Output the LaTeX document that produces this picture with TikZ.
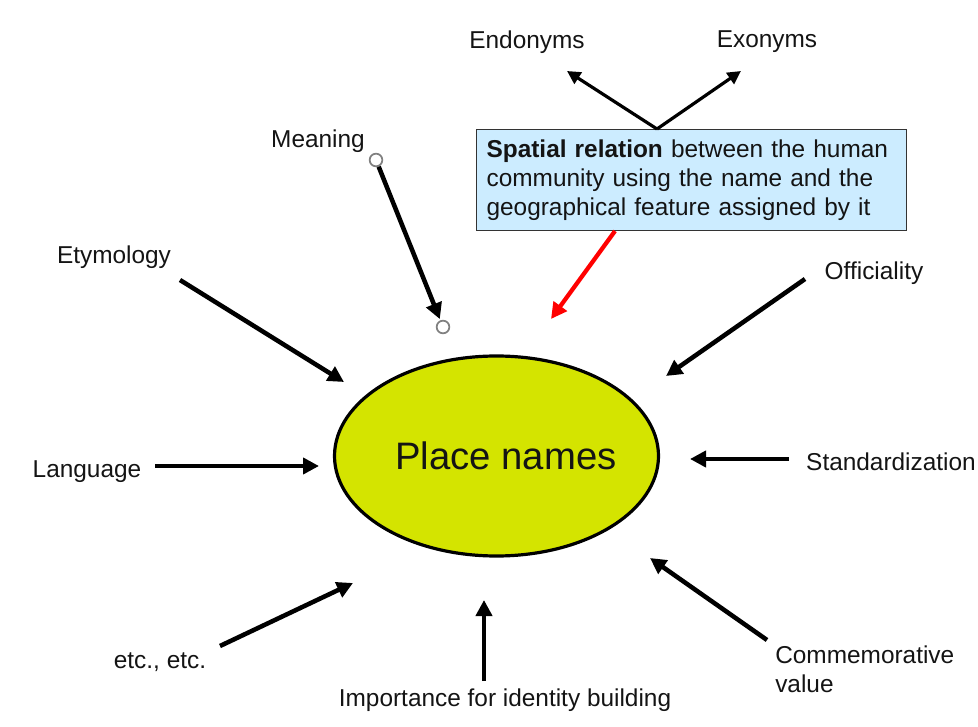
\documentclass[tikz,border=0pt]{standalone}
\usepackage{fontspec}
\setmainfont{Liberation Sans}
\usetikzlibrary{arrows.meta,shapes.geometric}
\definecolor{pnfill}{RGB}{212,228,0}
\definecolor{boxfill}{RGB}{204,236,255}
\definecolor{txt}{RGB}{20,20,20}
\begin{document}
\begin{tikzpicture}[x=0.75pt,y=-0.75pt,
  lbl/.style={font=\fontsize{18.3}{22}\selectfont,text=txt,inner sep=0pt},
  arr/.style={line width=3.4pt,-{Triangle[length=12pt,width=12pt]}},
  thinarr/.style={line width=2.4pt,-{Triangle[length=10pt,width=10pt]}},
  redarr/.style={line width=3.2pt,red,-{Triangle[length=12pt,width=12pt]}},
  ring/.style={circle,draw=gray,line width=1.3pt,minimum size=9.5pt,inner sep=0pt}]
\useasboundingbox (0,0) rectangle (978,727);
% central ellipse
\node[ellipse,draw,line width=2.4pt,fill=pnfill,minimum width=243pt,minimum height=150pt,inner sep=0pt] (ell) at (496.5,456) {};
\node[lbl,font=\fontsize{28.7}{32}\selectfont] (pn) at (506,456) {Place names};
% spatial relation box
\node[draw=black!80,line width=0.9pt,fill=boxfill,anchor=north west,minimum width=322.5pt,minimum height=75.75pt,
  text width=307.5pt,inner xsep=7.5pt,align=left,font=\fontsize{18.3}{22}\selectfont,text=txt] (box) at (476,129)
  {\textbf{Spatial relation} between the human community using the name and the geographical feature assigned by it};
% labels
\node[lbl] (endo) at (527,42) {Endonyms};
\node[lbl] (exo) at (767,42) {Exonyms};
\node[lbl] (mean) at (318,141) {Meaning};
\node[lbl] (ety) at (114,257) {Etymology};
\node[lbl] (offi) at (874,273) {Officiality};
\node[lbl] (lang) at (87,472) {Language};
\node[lbl] (stand) at (891,462) {Standardization};
\node[lbl] (etc) at (160,662) {etc., etc.};
\node[lbl,align=left,anchor=west] (comm) at (775,669) {Commemorative\\value};
\node[lbl] (iden) at (505,700) {Importance for identity building};
% coordinates
\coordinate (bt) at (657,129);
\coordinate (endoE) at (567,71);
\coordinate (exoE) at (741,71);
\node[ring] (m1) at (376,160) {};
\node[ring] (m2) at (443,327) {};
\coordinate (etyS) at (180,280); \coordinate (etyE) at (344,382);
\coordinate (langS) at (155,466); \coordinate (langE) at (319,466);
\coordinate (etcS) at (220,646); \coordinate (etcE) at (353,583);
\coordinate (idenS) at (484,681); \coordinate (idenE) at (484,600);
\coordinate (commS) at (767,640); \coordinate (commE) at (650,558);
\coordinate (standS) at (789,459); \coordinate (standE) at (690,459);
\coordinate (offiS) at (805,279); \coordinate (offiE) at (666,376);
\coordinate (redS) at (615,231); \coordinate (redE) at (551,319);
% connectors
\draw[thinarr] (bt) -- (endoE);
\draw[thinarr] (bt) -- (exoE);
\draw[arr,shorten >=1pt] (m1) -- (m2);
\draw[arr] (etyS) -- (etyE);
\draw[arr] (langS) -- (langE);
\draw[arr] (etcS) -- (etcE);
\draw[arr] (idenS) -- (idenE);
\draw[arr] (commS) -- (commE);
\draw[arr] (standS) -- (standE);
\draw[arr] (offiS) -- (offiE);
\draw[redarr] (redS) -- (redE);
\end{tikzpicture}
\end{document}
